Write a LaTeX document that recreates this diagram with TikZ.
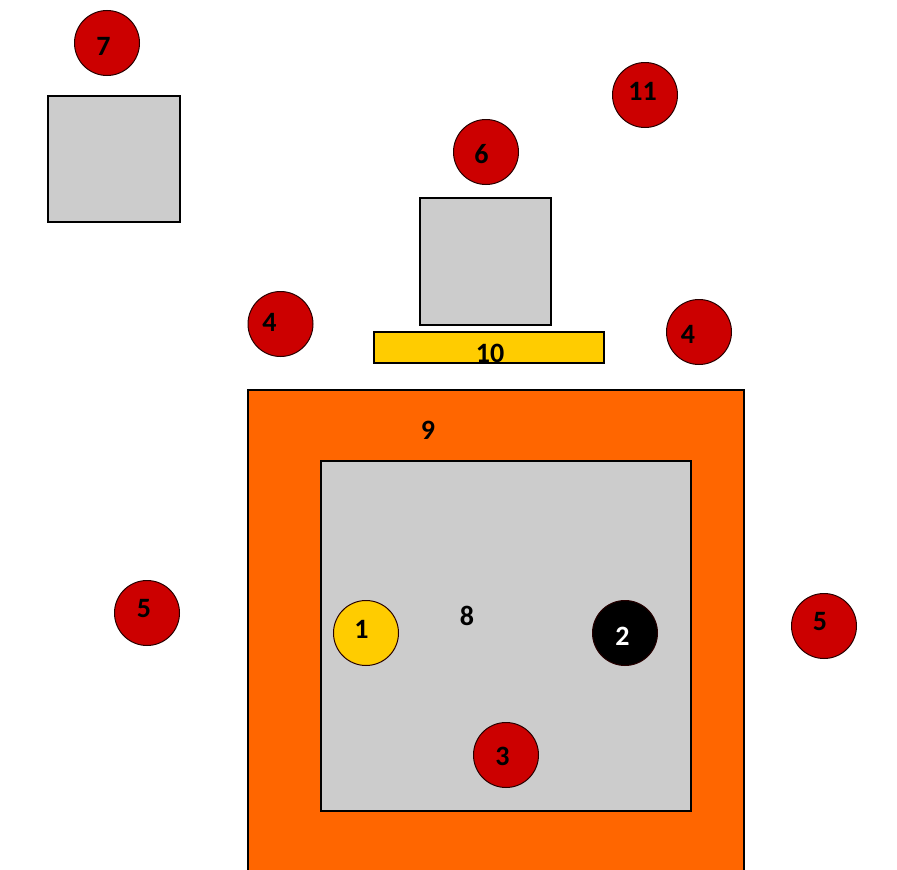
\documentclass[tikz,border=0pt]{standalone}
\usepackage{fontspec}
\setmainfont{Carlito}
\definecolor{markred}{HTML}{CC0000}
\definecolor{frameorange}{HTML}{FF6600}
\definecolor{plategold}{HTML}{FFCC00}
\definecolor{boxgray}{HTML}{CCCCCC}
\tikzset{
  badge/.style={circle, draw=black!85!red, line width=1pt, fill=markred, minimum size=65, inner sep=0pt},
  block/.style={draw=black, line width=2pt, fill=boxgray},
  tag/.style={inner sep=0pt, font=\fontsize{28}{30}\selectfont\bfseries}
}
\begin{document}
\begin{tikzpicture}[x=1pt, y=-1pt]
    \useasboundingbox (0,0) rectangle (897,870);

    % Outer frame (open at the bottom)
    \fill[frameorange] (248,390) rectangle (744,870);
    \draw[line width=2pt] (248,870) -- (248,390) -- (744,390) -- (744,870);
    \node[tag] (nine) at (428,430) {9};

    % Inner area
    \filldraw[block] (321,461) rectangle (691,811);
    \node[tag] (eight) at (467,616) {8};
    \node[badge, fill=plategold] (one) at (366,633) {};
    \node[tag] (one-t) at (361.5,629) {1};
    \node[badge, fill=black] (two) at (625,633) {};
    \node[tag, text=white] (two-t) at (622.5,636) {2};
    \node[badge] (three) at (506,755) {};
    \node[tag] (three-t) at (502.5,756) {3};

    % Outside markers
    \node[badge] (fiveL) at (147,613) {};
    \node[tag] (fiveL-t) at (144,608.5) {5};
    \node[badge] (fiveR) at (824,626) {};
    \node[tag] (fiveR-t) at (820,621.5) {5};
    \node[badge] (fourL) at (280.5,324) {};
    \node[tag] (fourL-t) at (269.5,322) {4};
    \node[badge] (fourR) at (699,332) {};
    \node[tag] (fourR-t) at (688,334) {4};

    % Centre box on its plate
    \filldraw[draw=black, line width=1.5pt, fill=plategold] (374,332) rectangle (604,363);
    \node[tag] (ten) at (490,353) {10};
    \filldraw[block] (420,198) rectangle (551,325);
    \node[badge] (six) at (486,152) {};
    \node[tag] (six-t) at (481.5,154) {6};
    \node[badge] (eleven) at (645,95) {};
    \node[tag] (eleven-t) at (642.5,91) {11};

    % Corner box
    \filldraw[block] (48,96) rectangle (180,222);
    \node[badge] (seven) at (107,43) {};
    \node[tag] (seven-t) at (103.5,46) {7};
\end{tikzpicture}
\end{document}
